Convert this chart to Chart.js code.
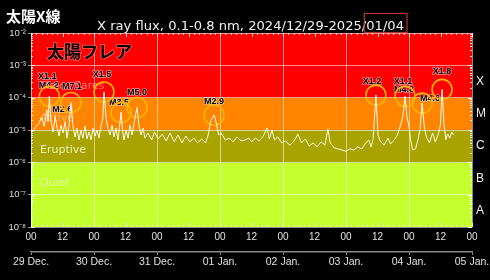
<!DOCTYPE html>
<html lang="ja">
<head>
<meta charset="UTF-8">
<title>太陽X線</title>
<script src="https://cdn.jsdelivr.net/npm/chart.js"></script>
<style>
  html, body { margin: 0; padding: 0; background: #000; }
  #wrap { width: 490px; height: 280px; }
</style>
</head>
<body>
<div id="wrap"><canvas id="xray"></canvas></div>
<script>
// hours since 2024-12-29 00:00, and X-ray flux (W/m2)
var hours = [0, 1, 2, 3, 4, 5, 6.0, 6.5, 7.0, 7.6, 8.4, 9.2, 10, 10.7, 11.4, 12.2, 13, 13.7, 14.5, 15.2,
  16, 16.8, 17.5, 18.3, 19, 19.8, 20.6, 21.3, 22.1, 22.9, 23.6, 24.4, 25.1, 25.9, 26.7, 27.3, 27.8, 28.6,
  29.3, 30.1, 30.9, 31.6, 32.4, 33.1, 33.7, 34.3, 34.9, 35.4, 36.2, 37, 37.7, 38.5, 39.6, 40.4, 41.1,
  41.9, 42.7, 43.4, 44.5, 46, 47, 48.5, 50, 51.5, 53, 54.5, 56, 57.5, 59, 60.5, 62, 63.5, 65, 66.5,
  67.5, 68.5, 69.7, 70.5, 71.5, 72.5, 74, 75.5, 77, 78.5, 80, 81.5, 83, 84, 85.5, 87, 88.5, 89.9, 90.8,
  91.8, 92.8, 94, 95.5, 97, 98.5, 100, 101.7, 103, 104.5, 106, 107.5, 109, 110.5, 112, 113.1, 114,
  115.5, 117, 118.5, 120, 121.5, 123, 124.5, 126, 127.5, 128.7, 129.5, 130.3, 131.4, 132.2, 133, 134.5,
  136, 137, 138.3, 139.4, 140.2, 141, 141.7, 142.5, 143.2, 144, 144.6, 145.4, 146.5, 147.4, 148.2, 149,
  149.8, 150.6, 151.8, 153, 154, 155.2, 156, 156.6, 157.3, 158, 158.7, 159.5, 160.3, 161];
var flux = [8.1e-6, 1.0e-5, 1.3e-5, 1.6e-5, 2.5e-5, 1.3e-5, 4.2e-5, 1.8e-5, 1.1e-4, 2.0e-5, 8.7e-6, 2.6e-5,
  1.15e-5, 6.5e-6, 1.4e-5, 8.1e-6, 1.8e-5, 5.6e-6, 1.4e-5, 7.1e-5,
  1.3e-5, 6.1e-6, 1.15e-5, 4.9e-6, 1.0e-5, 5.6e-6, 1.33e-5, 5.3e-6, 8.7e-6, 4.9e-6, 1.15e-5, 6.5e-6,
  1.0e-5, 5.6e-6, 1.43e-5, 2.0e-5, 1.5e-4, 2.35e-5,
  1.15e-5, 7.0e-6, 1.43e-5, 6.1e-6, 1.15e-5, 4.9e-6, 1.2e-5, 3.5e-5, 1.0e-5, 4.9e-6, 1.0e-5, 5.6e-6,
  1.43e-5, 7.0e-6, 2.35e-5, 5.0e-5, 1.43e-5,
  7.0e-6, 1.15e-5, 5.6e-6, 8.1e-6, 4.9e-6, 8.7e-6, 5.3e-6, 7.5e-6, 4.6e-6, 8.1e-6, 4.3e-6, 7.0e-6,
  4.0e-6, 6.5e-6, 4.3e-6, 5.6e-6, 4.0e-6, 5.3e-6, 4.0e-6,
  7.0e-6, 2.0e-5, 2.9e-5, 1.77e-5, 7.0e-6, 8.1e-6, 4.9e-6, 5.6e-6, 4.3e-6, 6.1e-6, 4.6e-6, 4.9e-6,
  5.6e-6, 4.3e-6, 5.6e-6, 4.6e-6, 6.5e-6, 1.15e-5, 5.3e-6,
  1.0e-5, 4.9e-6, 6.1e-6, 4.0e-6, 4.6e-6, 3.4e-6, 4.3e-6, 7.5e-6, 4.0e-6, 5.3e-6, 3.2e-6, 4.0e-6,
  3.0e-6, 4.3e-6, 3.4e-6, 1.1e-5, 4.0e-6,
  2.8e-6, 2.6e-6, 2.4e-6, 2.2e-6, 2.6e-6, 2.4e-6, 3.0e-6, 2.6e-6, 4.0e-6, 4.9e-6, 3.0e-6, 5.0e-6,
  1.2e-4, 7.0e-6, 4.6e-6, 3.4e-6,
  5.6e-6, 3.7e-6, 4.9e-6, 6.5e-6, 1.0e-5, 1.6e-5, 2.8e-5, 1.1e-4, 2.5e-5, 1.3e-5, 5.0e-6, 2.4e-6,
  2.6e-6, 4.9e-6, 1.1e-5, 6.8e-5,
  1.3e-5, 6.1e-6, 4.0e-6, 8.1e-6, 4.3e-6, 7.5e-6, 1.5e-5, 1.8e-4, 1.6e-5, 5.0e-6, 7.5e-6, 5.6e-6,
  8.7e-6, 7.0e-6];

// flare annotations
var flareNames = ['X1.1', 'M4.2', 'M7.1', 'M2.6', 'X1.5', 'M3.5', 'M5.0', 'M2.9', 'X1.2', 'X1.1', 'M4.8', 'M4.6', 'X1.8'];
var flareHours = [7.0, 6.0, 15.2, 9.2, 27.8, 34.3, 40.4, 69.7, 131.4, 142.5, 143.2, 149.0, 156.6];
var flarePeaks = [1.1e-4, 4.2e-5, 7.1e-5, 2.6e-5, 1.5e-4, 3.5e-5, 5.0e-5, 2.9e-5, 1.2e-4, 1.1e-4, 4.8e-5, 6.8e-5, 1.8e-4];
var flareCircled = [true, false, true, false, true, true, true, true, true, true, false, true, true];

// axes
var decadeValues = [1e-8, 1e-7, 1e-6, 1e-5, 1e-4, 1e-3, 1e-2];
var decadeLabels = ['10⁻⁸', '10⁻⁷', '10⁻⁶', '10⁻⁵', '10⁻⁴', '10⁻³', '10⁻²'];
var classCenters = [3.16e-8, 3.16e-7, 3.16e-6, 3.16e-5, 3.16e-4];
var classLabels = ['A', 'B', 'C', 'M', 'X'];
var hourLabels = ['00', '12'];
var dateLabels = ['29 Dec.', '30 Dec.', '31 Dec.', '01 Jan.', '02 Jan.', '03 Jan.', '04 Jan.', '05 Jan.'];

// activity bands
var bandEdges = [1e-2, 1e-4, 1e-5, 1e-6, 1e-8];
var bandColors = ['#ff0000', '#ff8400', '#a9a300', '#c4ff2e'];
var zoneNames = ['Major flares', 'Active', 'Eruptive', 'Quiet'];
var zoneFloors = [1e-4, 1e-5, 1e-6, 1e-7];

var zoneColors = ['rgba(255,255,255,0.45)', 'rgba(255,255,255,0.4)', 'rgba(240,255,215,0.85)', 'rgba(255,255,255,0.55)'];
// label offsets from each flare point (px)
var labelShift = [[-2, -20], [2, -24], [1, -16], [7, -7], [-2, -17], [-2, -10], [0, -15], [0, -14],
  [-4, -14], [-2, -15], [-3, -18], [8, -5], [0, -18]];

var decor = {
  id: 'decor',
  beforeDraw: function (chart) {
    var c = chart.ctx, a = chart.chartArea, y = chart.scales.y;
    c.save();
    c.fillStyle = '#000';
    c.fillRect(0, 0, chart.width, chart.height);
    for (var i = 0; i < bandColors.length; i++) {
      var top = y.getPixelForValue(bandEdges[i]);
      var bot = y.getPixelForValue(bandEdges[i + 1]);
      c.fillStyle = bandColors[i];
      c.fillRect(a.left, top, a.right - a.left, bot - top);
    }
    c.restore();
  },
  beforeDatasetsDraw: function (chart) {
    var c = chart.ctx, a = chart.chartArea, x = chart.scales.x, y = chart.scales.y;
    c.save();
    c.font = '11px "DejaVu Sans"';
    c.textAlign = 'left';
    c.textBaseline = 'middle';
    for (var i = 0; i < zoneNames.length; i++) {
      c.fillStyle = zoneColors[i];
      c.fillText(zoneNames[i], a.left + 9, y.getPixelForValue(zoneFloors[i]) - 12);
    }
    c.font = 'bold 17px "Noto Sans CJK JP"';
    c.textBaseline = 'alphabetic';
    c.lineWidth = 2;
    c.strokeStyle = 'rgba(255,120,120,0.6)';
    c.strokeText('太陽フレア', a.left + 16, a.top + 25);
    c.fillStyle = '#000';
    c.fillText('太陽フレア', a.left + 16, a.top + 25);

    c.font = 'bold 9px "Liberation Sans"';
    c.textAlign = 'center';
    c.textBaseline = 'middle';
    c.lineJoin = 'round';
    for (var j = 0; j < flareNames.length; j++) {
      var px = x.getPixelForValue(flareHours[j]) + labelShift[j][0];
      var py = y.getPixelForValue(flarePeaks[j]) + labelShift[j][1];
      c.strokeStyle = 'rgba(255,255,255,0.55)';
      c.lineWidth = 1.4;
      c.strokeText(flareNames[j], px, py);
      c.fillStyle = '#000';
      c.fillText(flareNames[j], px, py);
    }
    c.restore();
  },
  afterDraw: function (chart) {
    var c = chart.ctx, a = chart.chartArea, x = chart.scales.x, y = chart.scales.y;
    c.save();
    // minor ticks along the frame
    c.strokeStyle = 'rgba(255,255,255,0.85)';
    c.lineWidth = 1;
    c.beginPath();
    for (var h = 0; h <= 168; h += 2) {
      var px = Math.round(x.getPixelForValue(h)) + 0.5;
      var len = h % 12 === 0 ? 4 : 2;
      c.moveTo(px, a.top); c.lineTo(px, a.top + len);
      c.moveTo(px, a.bottom); c.lineTo(px, a.bottom - len);
    }
    for (var d = 0; d < decadeValues.length - 1; d++) {
      for (var m = 1; m < 10; m++) {
        var py = Math.round(y.getPixelForValue(decadeValues[d] * m)) + 0.5;
        var l2 = m === 1 ? 4 : 2;
        c.moveTo(a.right, py); c.lineTo(a.right - l2, py);
        c.moveTo(a.left, py); c.lineTo(a.left + l2, py);
      }
    }
    c.stroke();

    // titles
    c.textAlign = 'left';
    c.textBaseline = 'alphabetic';
    c.fillStyle = '#fff';
    c.font = 'bold 15px "Noto Sans CJK JP"';
    c.fillText('太陽X線', 6, 22);

    var sub = 'X ray flux, 0.1-0.8 nm, 2024/12/29-2025/';
    var tail = '01/04';
    c.font = '12px "DejaVu Sans"';
    var size = 12 * 307 / c.measureText(sub + tail).width;
    c.font = size.toFixed(2) + 'px "DejaVu Sans"';
    var w1 = c.measureText(sub).width, w2 = c.measureText(tail).width;
    var left = 97;
    c.fillStyle = '#f2f2f2';
    c.fillText(sub + tail, left, 30);
    c.strokeStyle = '#b53535';
    c.lineWidth = 1.2;
    c.strokeRect(left + w1 - 2, 13.5, w2 + 5, 19);
    c.restore();
  }
};

var fitX = function (h) {
  return function (s) { s.height = h; s.paddingLeft = 0; s.paddingRight = 0; };
};

new Chart(document.getElementById('xray').getContext('2d'), {
  type: 'line',
  data: {
    datasets: [{
      label: 'flux',
      data: hours.map(function (h, i) { return { x: h, y: flux[i] }; }),
      borderColor: '#fffbea',
      borderWidth: 1,
      pointRadius: 0,
      tension: 0,
      xAxisID: 'x',
      yAxisID: 'y'
    }, {
      label: 'flares',
      data: flareHours.map(function (h, i) { return { x: h, y: flarePeaks[i] }; })
        .filter(function (p, i) { return flareCircled[i]; }),
      showLine: false,
      pointRadius: 10,
      pointBorderWidth: 1.6,
      pointBorderColor: '#ffb400',
      pointBackgroundColor: 'rgba(0,0,0,0)',
      xAxisID: 'x',
      yAxisID: 'y'
    }]
  },
  options: {
    responsive: true,
    maintainAspectRatio: false,
    animation: false,
    devicePixelRatio: 1,
    layout: { padding: { top: 33, bottom: 8, left: 0, right: 0 } },
    plugins: { legend: { display: false }, tooltip: { enabled: false } },
    scales: {
      x: {
        type: 'linear', min: 0, max: 168, position: 'bottom', weight: 0,
        ticks: {
          stepSize: 12, color: '#e0e0e0', font: { size: 10 }, padding: 4,
          maxRotation: 0, autoSkip: false,
          callback: function (v) { return hourLabels[Math.round(v / 12) % 2]; }
        },
        grid: {
          drawTicks: false,
          color: function (ctx) {
            return ctx.tick && ctx.tick.value % 24 === 0 ? 'rgba(255,255,255,0.55)' : 'rgba(0,0,0,0)';
          }
        },
        border: { display: false },
        afterFit: fitX(25)
      },
      x2: {
        type: 'linear', min: 0, max: 168, position: 'bottom', weight: 1,
        ticks: {
          stepSize: 24, color: '#e0e0e0', font: { size: 10.5 }, padding: 1,
          maxRotation: 0, autoSkip: false,
          callback: function (v) { return dateLabels[Math.round(v / 24)]; }
        },
        grid: { drawOnChartArea: false, drawTicks: true, tickLength: 3, color: '#8a8a8a' },
        border: { display: true, color: '#8a8a8a', width: 1.5 },
        afterFit: fitX(20)
      },
      y: {
        type: 'logarithmic', min: 1e-8, max: 1e-2, position: 'left',
        afterBuildTicks: function (s) { s.ticks = decadeValues.map(function (v) { return { value: v }; }); },
        ticks: {
          color: '#dddddd', font: { size: 9.5 }, padding: 2,
          callback: function (v, i) { return decadeLabels[i]; }
        },
        grid: { color: 'rgba(255,255,255,0.55)', tickLength: 3 },
        border: { display: false },
        afterFit: function (s) { s.width = 31; s.paddingTop = 0; s.paddingBottom = 0; }
      },
      yR: {
        type: 'logarithmic', min: 1e-8, max: 1e-2, position: 'right',
        afterBuildTicks: function (s) { s.ticks = classCenters.map(function (v) { return { value: v }; }); },
        ticks: {
          color: '#f0f0f0', font: { size: 12 }, padding: 4,
          callback: function (v, i) { return classLabels[i]; }
        },
        grid: { drawOnChartArea: false, drawTicks: false },
        border: { display: false },
        afterFit: function (s) { s.width = 18; s.paddingTop = 0; s.paddingBottom = 0; }
      }
    }
  },
  plugins: [decor]
});
</script>
</body>
</html>
